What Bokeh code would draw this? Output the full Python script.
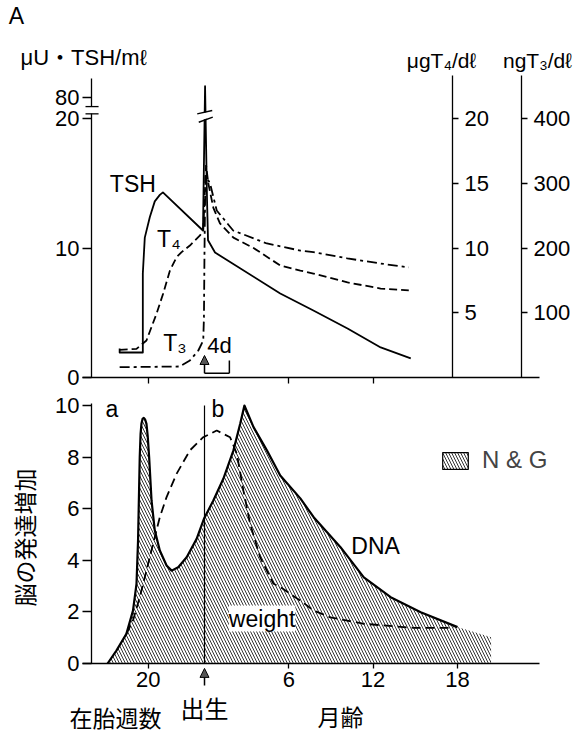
from bokeh.plotting import figure
from bokeh.models import (LinearAxis, Range1d, FixedTicker, Label, Arrow, NormalHead,
                          Legend, LegendItem)
from bokeh.layouts import column
from bokeh.embed import file_html
from bokeh.resources import INLINE

FONT = "Liberation Sans, Noto Sans CJK JP"
CJK = "Noto Sans CJK JP"

# ---------------- data ----------------
# x unit: months from birth; prenatal weeks compressed (20 weeks of gestation -> -4)
WK20 = -4
top_ticks = [WK20, 6, 12]
bottom_ticks = [WK20, 6, 12, 18]
bottom_tick_labels = {WK20: "20", 6: "6", 12: "12", 18: "18"}

# upper panel: TSH (μU/ml), T4 (μg/dl), T3 (ng/dl)
tsh_x = [-6.04, -6.04, -4.39, -4.39, -4.25, -3.89, -3.54, -3.18, -2.96, -0.11,
         0.04, 0.18, 0.25, 0.75, 5.39, 7.75, 10.18, 12.54, 14.68]
tsh_y = [2.24, 1.93, 1.93, 8.03, 10.8, 12.4, 13.6, 14.1, 14.3, 11.35,
         105, 13.7, 10.6, 9.65, 6.49, 5.17, 3.78, 2.32, 1.47]

t4_x = [-6.04, -4.84, -4.13, -3.41, -2.94, -2.46, -1.99, -1.63, -1.04, -0.32,
        -0.09, 0.11, 0.27, 0.63, 1.1, 2.06, 3.49, 5.39, 6.82, 7.75, 10.18, 12.54, 14.54]
t4_y = [2.14, 2.21, 2.86, 4.94, 6.49, 8.26, 9.29, 9.68, 10.19, 10.97,
        11.35, 16.4, 15.0, 13.1, 11.9, 10.8, 10.0, 8.65, 8.26, 8.03, 7.34, 6.87, 6.72]

t3_x = [-6.04, -1.75, -1.04, -0.44, -0.09, -0.04, 0.0, 0.04, 0.07, 0.39, 0.87,
        2.04, 4.44, 6.82, 7.75, 10.16, 12.54, 14.54]
t3_y = [15.9, 17, 26.3, 41.7, 57.1, 92.7, 196, 273, 312, 300, 258,
        227, 207, 196, 193.5, 184, 176, 170]

tsh_ticks = [0, 10, 20, 80]
t4_ticks = [5, 10, 15, 20]
t3_ticks = [100, 200, 300, 400]

# lower panel: brain growth increments
dna_x = [-6.9, -6.27, -5.56, -5.09, -4.84, -4.73, -4.61, -4.55, -4.49, -4.41, -4.32,
         -4.23, -4.13, -4.04, -3.94, -3.77, -3.54, -3.18, -2.70, -2.34, -1.87, -1.27,
         -0.56, -0.04, 0.63, 1.34, 2.06, 2.54, 2.84, 3.49, 4.44, 5.39, 6.82, 7.77,
         9.68, 11.34, 13.25, 15.39, 18.01]
dna_y = [0.0, 0.5, 1.15, 2.05, 3.09, 4.77, 8.0, 8.9, 9.29, 9.48, 9.52,
         9.46, 9.29, 8.8, 8.0, 6.32, 5.16, 4.38, 3.8, 3.6, 3.73, 4.12,
         4.83, 5.61, 6.32, 7.16, 8.26, 9.29, 10.0, 9.16, 8.26, 7.29, 6.4, 5.67,
         4.51, 3.34, 2.57, 1.99, 1.41]
ng_ext_x = [20.4, 20.4]
ng_ext_y = [1.02, 0.0]

weight_x = [-5.56, -5.09, -4.61, -4.13, -3.66, -3.18, -2.70, -1.99, -1.04, -0.09,
            0.87, 1.82, 2.30, 2.77, 3.25, 3.96, 4.91, 5.39, 6.82, 7.77, 8.96,
            11.34, 14.91, 17.30, 17.77]
weight_y = [1.15, 1.67, 2.57, 3.6, 4.64, 5.67, 6.45, 7.35, 8.26, 8.77,
            9.03, 8.77, 8.13, 6.7, 5.41, 4.12, 3.09, 2.96, 2.44, 2.05, 1.79,
            1.54, 1.38, 1.38, 1.43]
growth_ticks = [0, 2, 4, 6, 8, 10]

# broken TSH axis: linear up to 20, compressed segment above the break
BREAK_LO, BREAK_HI = 20.36, 20.92
def tsh_disp(v):
    return v if v <= 20 else BREAK_HI + (v - 60) * (21.62 - BREAK_HI) / 20.0

# frames cover the whole canvas; axes are placed at fixed data locations
W = 583
TOP_H, BOT_H = 393, 342
X_LO, X_HI = -14.520, 26.975
AX_X0, AX_X1 = -8.68, 23.84          # extent of the x axes
Y_AXIS_X = -8.04
T4_AXIS_X, T3_AXIS_X = 17.65, 22.56
TOP_Y_LO, TOP_Y_HI = -1.2355, 29.112
TOP_AX_HI = 23.32
BOT_Y_LO, BOT_Y_HI = -2.7907, 10.4651
BOT_AX_HI = 10.08


def clean(p):
    p.grid.visible = False
    p.outline_line_color = None
    p.background_fill_color = "white"
    p.border_fill_color = "white"


def make_axis(loc, ticks, bounds, tick_out, standoff, size="22px", **kw):
    ax = LinearAxis(fixed_location=loc, bounds=bounds,
                    ticker=FixedTicker(ticks=ticks, minor_ticks=[]), **kw)
    ax.axis_line_width = 1.3
    ax.axis_line_color = "black"
    ax.major_tick_line_width = 1.3
    ax.major_tick_line_color = "black"
    ax.minor_tick_line_color = None
    ax.major_tick_in = 0
    ax.major_tick_out = tick_out
    ax.major_label_standoff = standoff
    ax.major_label_text_font = FONT
    ax.major_label_text_font_size = size
    ax.major_label_text_color = "black"
    return ax


def lab(p, x, y, text, size="23px", align="center", font=FONT, **kw):
    p.add_layout(Label(x=x, y=y, text=text, text_font=font, text_font_size=size,
                       text_align=align, text_baseline="middle", text_color="black", **kw))


def fig(height, ylo, yhi):
    p = figure(width=W, height=height, x_range=Range1d(X_LO, X_HI), y_range=Range1d(ylo, yhi),
               output_backend="svg", toolbar_location=None, x_axis_location=None,
               y_axis_location=None, min_border=0)
    clean(p)
    return p


# ---------------- upper panel ----------------
top = fig(TOP_H, TOP_Y_LO, TOP_Y_HI)
top.extra_y_ranges = {"t4": Range1d(TOP_Y_LO, TOP_Y_HI), "t3": Range1d(TOP_Y_LO * 20, TOP_Y_HI * 20)}

xa = make_axis(0, top_ticks, (AX_X0, AX_X1), 6, 0)
xa.major_label_overrides = {t: "" for t in top_ticks}
top.add_layout(xa, "below")

y80 = tsh_disp(80)
ya = make_axis(Y_AXIS_X, [tsh_disp(t) for t in tsh_ticks], (0, 23.09), 9, 3)
ya.major_label_overrides = {y80: "80"}
top.add_layout(ya, "left")

top.add_layout(make_axis(T4_AXIS_X, t4_ticks, (0, TOP_AX_HI), 6, 6, y_range_name="t4"), "right")
top.add_layout(make_axis(T3_AXIS_X, t3_ticks, (0, TOP_AX_HI * 20), 6, 6,
                         y_range_name="t3"), "right")

top.line(tsh_x, [tsh_disp(v) for v in tsh_y], line_color="black", line_width=1.8, line_join="round")
top.line(t4_x, t4_y, y_range_name="t4", line_color="black", line_width=1.8, line_dash="8 4")
top.line(t3_x, t3_y, y_range_name="t3", line_color="black", line_width=1.8, line_dash="10 4 3 4")

# axis break marks
r = top.quad(left=[-8.3], right=[-7.8], bottom=[BREAK_LO + 0.02], top=[BREAK_HI - 0.02],
             fill_color="white", line_color=None)
r.level = "overlay"
r = top.segment(x0=[-8.47, -8.47], x1=[-7.54, -7.54], y0=[BREAK_LO, BREAK_HI], y1=[BREAK_LO, BREAK_HI],
                line_color="black", line_width=1.3)
r.level = "overlay"
# break on the TSH surge
r = top.patch([-0.45, 0.55, 0.52, -0.48], [19.78, 20.14, 20.58, 20.33], fill_color="white", line_color=None)
r.level = "overlay"
r = top.segment(x0=[-0.52, -0.41], x1=[0.55, 0.59], y0=[20.36, 19.71], y1=[20.62, 20.1],
                line_color="black", line_width=1.4)
r.level = "overlay"

# birth arrow and 4-day bracket
top.add_layout(Arrow(end=NormalHead(size=9, fill_color="#555555", line_color="black", line_width=1),
                     x_start=0, y_start=0.33, x_end=0, y_end=1.7, line_width=1.5))
top.segment(x0=[0, 1.77], x1=[1.77, 1.77], y0=[0.33, 0.33], y1=[0.33, 1.31],
            line_color="black", line_width=1.5)

lab(top, -13.38, 27.95, "A", size="23px")
lab(top, -13.1, 24.71, "μU・TSH/mℓ", size="22px", align="left")
lab(top, 16.87, 24.5, "μgT₄/dℓ", size="21px")
lab(top, 23.7, 24.5, "ngT₃/dℓ", size="21px")
lab(top, -5.1, 14.98, "TSH")
lab(top, -2.54, 10.73, "T₄")
lab(top, -2.1, 2.7, "T₃")
lab(top, 1.07, 2.47, "4d", size="22px")

# ---------------- lower panel ----------------
bot = fig(BOT_H, BOT_Y_LO, BOT_Y_HI)

bx = make_axis(0, bottom_ticks, (AX_X0, AX_X1), 5, 4)
bx.major_label_overrides = bottom_tick_labels
bot.add_layout(bx, "below")
bot.add_layout(make_axis(Y_AXIS_X, growth_ticks, (0, BOT_AX_HI), 9, 3), "left")

ng_x = dna_x + ng_ext_x
ng_y = dna_y + ng_ext_y
HATCH = dict(hatch_pattern="\\", hatch_scale=6, hatch_weight=0.8, hatch_color="black")
bot.patch(ng_x + [ng_x[0]], ng_y + [0.0], fill_color="white", fill_alpha=0,
          line_color=None, **HATCH)
bot.line(dna_x, dna_y, line_color="black", line_width=2.2, line_join="round")
bot.line(weight_x, weight_y, line_color="black", line_width=1.8, line_dash="9 5")
bot.segment(x0=[0], x1=[0], y0=[0], y1=[10.0], line_color="black", line_width=1.2)

# legend proxy (kept outside the visible range)
proxy = bot.quad(left=[X_HI + 10], right=[X_HI + 11], top=[1], bottom=[0], fill_color="white",
                 line_color="black", line_width=1.2, **HATCH)
legend = Legend(items=[LegendItem(label="N & G", renderers=[proxy])], location=(439, 261),
                glyph_width=32, glyph_height=21, padding=0, margin=0, label_standoff=11,
                border_line_color=None, background_fill_alpha=0,
                label_text_font=FONT, label_text_font_size="24px", label_height=21)
bot.add_layout(legend)

bot.add_layout(Arrow(end=NormalHead(size=9, fill_color="#555555", line_color="black", line_width=1),
                     x_start=0, y_start=-0.85, x_end=0, y_end=-0.19, line_width=1.5))

lab(bot, -6.6, 9.88, "a")
lab(bot, 0.96, 9.88, "b")
lab(bot, 12.18, 4.57, "DNA")
lab(bot, 4.1, 1.74, "weight", background_fill_color="white", background_fill_alpha=1.0)
lab(bot, -6.33, -2.07, "在胎週数", size="23px", font=CJK)
lab(bot, 0.0, -1.71, "出生", size="24px", font=CJK)
lab(bot, 9.68, -2.03, "月齢", size="23px", font=CJK)
bot.add_layout(Label(x=-12.88, y=4.88, text="脳の発達増加", text_font=CJK, text_font_size="23px",
                     text_align="center", text_baseline="middle", angle=1.5708, text_color="black"))

page = column(top, bot, spacing=0)
open("out.html", "w").write(file_html(page, INLINE))
